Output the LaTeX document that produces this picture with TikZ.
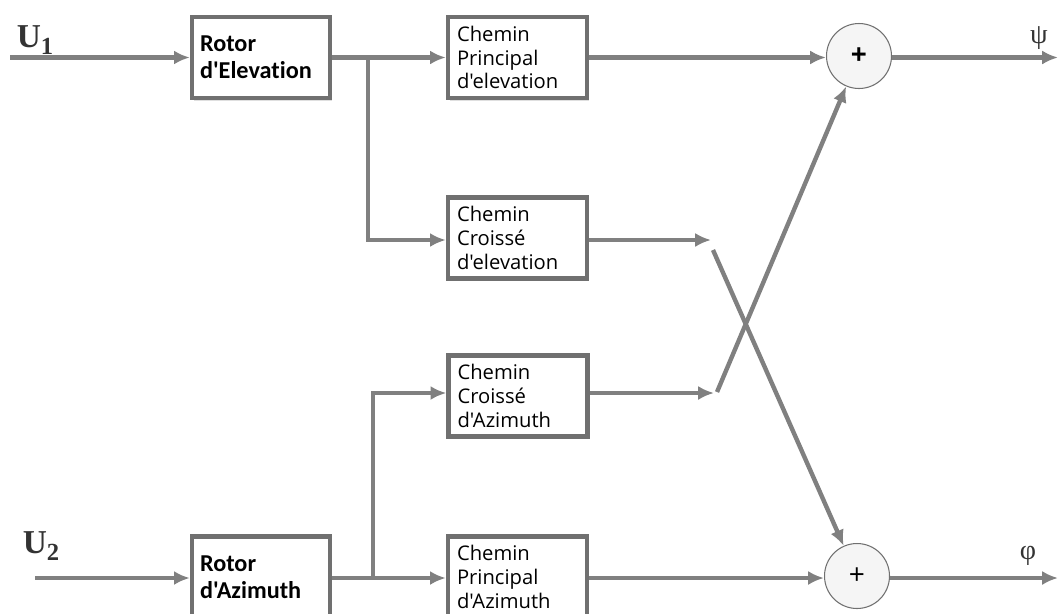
\documentclass[tikz,border=0pt]{standalone}
\usepackage{fontspec}
\setmainfont{Liberation Serif}
\newfontfamily\rotorfont[Ligatures=NoCommon]{Carlito}
\newfontfamily\cheminfont{Open Sans}
\usetikzlibrary{arrows.meta,positioning,calc,shadows}
\definecolor{lgray}{RGB}{128,128,128}
\definecolor{bgray}{RGB}{112,112,112}
\newcommand{\usub}[2]{#1\raisebox{-0.45ex}{\fontsize{14}{14}\selectfont #2}}
\tikzset{
  rotor/.style={draw=bgray, line width=2.5pt, fill=white, inner xsep=0.16cm, text width=2.44cm, minimum height=1.62cm, align=left,
    font=\rotorfont\bfseries\fontsize{13.8}{15.5}\selectfont, drop shadow={shadow xshift=1.2pt, shadow yshift=-1.5pt, opacity=0.25}},
  chemin/.style={draw=bgray, line width=2.5pt, fill=white, inner xsep=0.18cm, text width=2.42cm, minimum height=1.62cm, align=left,
    font=\cheminfont\fontsize{11.5}{13.6}\selectfont, drop shadow={shadow xshift=1.2pt, shadow yshift=-1.5pt, opacity=0.25}},
  somme/.style={circle, draw=bgray, line width=0.6pt, fill=gray!8, minimum size=1.3cm, inner sep=0pt,
    font=\cheminfont\fontsize{16}{16}\selectfont},
  arr/.style={-{Latex[length=9pt,width=8pt]}, lgray, line width=2.5pt},
  lab/.style={inner sep=0pt, text=black!80},
}

\begin{document}
\begin{tikzpicture}[x=0.02cm,y=-0.02cm]
  \useasboundingbox (0,0) rectangle (1058,613);
  % blocs
  \node[rotor]  (rotE) at (261,57.5) {Rotor\\d'Elevation};
  \node[rotor]  (rotA) at (261,577)  {Rotor\\d'Azimuth};
  \node[chemin] (cpe)  at (517.5,57.5) {Chemin\\Principal\\d'elevation};
  \node[chemin] (cce)  at (517.5,238)  {Chemin\\Croissé\\d'elevation};
  \node[chemin] (cca)  at (518,396)    {Chemin\\Croissé\\d'Azimuth};
  \node[chemin] (cpa)  at (517.5,577)  {Chemin\\Principal\\d'Azimuth};
  \node[somme, font=\cheminfont\bfseries\fontsize{16}{16}\selectfont] (sumT) at (859,56) {+};
  \node[somme]  (sumB) at (857,576)  {+};
  % entrees / sorties
  \node[lab, font=\bfseries\fontsize{19}{19}\selectfont] (lU1) at (35,40) {\usub{U}{1}};
  \node[lab, font=\bfseries\fontsize{19}{19}\selectfont] (lU2) at (41,546) {\usub{U}{2}};
  \node[lab, font=\fontsize{16}{16}\selectfont] (lpsi) at (1039,38) {ψ};
  \node[lab, font=\fontsize{16}{16}\selectfont] (lphi) at (1028,556) {φ};
  \coordinate (u1) at (10,57.5);
  \coordinate (u2) at (35,578);
  \coordinate (psi) at (1058,57.5);
  \coordinate (phi) at (1058,578);
  \coordinate (brE) at (368,57.5);
  \coordinate (brA) at (373,578);
  \coordinate (xE) at (711,240);
  \coordinate (xEd) at (713,250);
  \coordinate (xA) at (714,393);
  \coordinate (xAd) at (717,392);
  % liaisons
  \draw[arr] (u1) -- (rotE.west |- u1);
  \draw[arr] (rotE.east |- u1) -- (cpe.west |- u1);
  \draw[arr] (brE) |- (cce.west |- xE);
  \draw[arr] (cpe.east |- u1) -- (sumT.west |- u1);
  \draw[arr] (sumT.east |- psi) -- (psi);
  \draw[arr] (cce.east |- xE) -- (xE);
  \draw[arr] (xEd) -- (sumB);
  \draw[arr] (u2) -- (rotA.west |- u2);
  \draw[arr] (rotA.east |- u2) -- (cpa.west |- u2);
  \draw[arr] (brA) |- (cca.west |- xA);
  \draw[arr] (cpa.east |- u2) -- (sumB.west |- u2);
  \draw[arr] (sumB.east |- phi) -- (phi);
  \draw[arr] (cca.east |- xA) -- (xA);
  \draw[arr] (xAd) -- (sumT);
\end{tikzpicture}
\end{document}
